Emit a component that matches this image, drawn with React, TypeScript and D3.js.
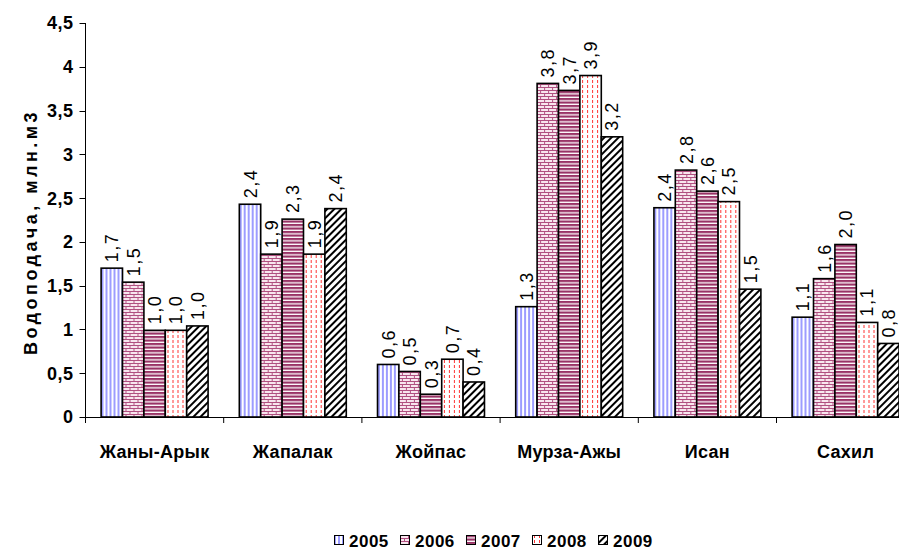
import * as d3 from "d3";
import { useEffect, useRef } from "react";

const categories = ["Жаны-Арык", "Жапалак", "Жойпас", "Мурза-Ажы", "Исан", "Сахил"];
const years = ["2005", "2006", "2007", "2008", "2009"];
const values2005 = [1.7, 2.43, 0.6, 1.26, 2.39, 1.14];
const values2006 = [1.54, 1.86, 0.52, 3.81, 2.82, 1.58];
const values2007 = [0.99, 2.26, 0.26, 3.73, 2.58, 1.97];
const values2008 = [0.99, 1.86, 0.66, 3.9, 2.46, 1.08];
const values2009 = [1.04, 2.38, 0.4, 3.2, 1.46, 0.84];
const yTicks = [0, 0.5, 1, 1.5, 2, 2.5, 3, 3.5, 4, 4.5];
const yTitle = "Водоподача, млн.м3";

const series = [values2005, values2006, values2007, values2008, values2009];

const fmt = (v: number) => d3.format(".1f")(v).replace(".", ",");
const fmtTick = (v: number) => String(v).replace(".", ",");

const App = () => {
  const chartRef = useRef<HTMLDivElement>(null);

  useEffect(() => {
    const width = 899;
    const height = 552;
    const left = 85.5;
    const catWidth = 138.2;
    const top = 23;
    const bottom = 417;

    d3.select(chartRef.current).select("svg").remove();

    const svg = d3
      .select(chartRef.current)
      .append("svg")
      .attr("width", width)
      .attr("height", height)
      .style("display", "block")
      .style("font-family", "'Liberation Sans', Arial, sans-serif");

    svg.append("rect").attr("width", width).attr("height", height).attr("fill", "white");

    // fill patterns, one per year
    const defs = svg.append("defs");

    const p0 = defs.append("pattern").attr("id", "p2005").attr("patternUnits", "userSpaceOnUse").attr("width", 4).attr("height", 4);
    p0.append("rect").attr("width", 4).attr("height", 4).attr("fill", "white");
    p0.append("rect").attr("width", 2).attr("height", 4).attr("fill", "#9c9cff");

    const p1 = defs.append("pattern").attr("id", "p2006").attr("patternUnits", "userSpaceOnUse").attr("width", 8).attr("height", 6);
    p1.append("rect").attr("width", 8).attr("height", 6).attr("fill", "#f8e6ee");
    p1.append("rect").attr("y", 0).attr("width", 8).attr("height", 1).attr("fill", "#b04f80");
    p1.append("rect").attr("y", 3).attr("width", 8).attr("height", 1).attr("fill", "#b04f80");
    p1.append("rect").attr("x", 0).attr("y", 0).attr("width", 1).attr("height", 3).attr("fill", "#b04f80");
    p1.append("rect").attr("x", 4).attr("y", 3).attr("width", 1).attr("height", 3).attr("fill", "#b04f80");

    const p2 = defs.append("pattern").attr("id", "p2007").attr("patternUnits", "userSpaceOnUse").attr("width", 4).attr("height", 3.5);
    p2.append("rect").attr("width", 4).attr("height", 3.5).attr("fill", "white");
    p2.append("rect").attr("width", 4).attr("height", 2.2).attr("fill", "#993366");

    const p3 = defs.append("pattern").attr("id", "p2008").attr("patternUnits", "userSpaceOnUse").attr("width", 5).attr("height", 10);
    p3.append("rect").attr("width", 5).attr("height", 10).attr("fill", "white");
    p3.append("rect").attr("x", 2).attr("y", 0).attr("width", 1).attr("height", 3).attr("fill", "#ff3333");
    p3.append("rect").attr("x", 2).attr("y", 5).attr("width", 1).attr("height", 3).attr("fill", "#ff3333");

    const p4 = defs.append("pattern").attr("id", "p2009").attr("patternUnits", "userSpaceOnUse").attr("width", 5).attr("height", 5).attr("patternTransform", "rotate(45)");
    p4.append("rect").attr("width", 5).attr("height", 5).attr("fill", "white");
    p4.append("rect").attr("width", 2).attr("height", 5).attr("fill", "black");

    const x = d3
      .scaleBand()
      .domain(categories)
      .range([left, left + catWidth * categories.length])
      .padding(0);

    const xInner = d3
      .scaleBand()
      .domain(years)
      .range([0, x.bandwidth()])
      .paddingInner(0)
      .paddingOuter(0.73);

    const y = d3.scaleLinear().domain([0, 4.5]).range([bottom, top]);

    // bars
    const groups = svg
      .append("g")
      .selectAll("g")
      .data(categories)
      .join("g")
      .attr("transform", (d) => `translate(${x(d)},0)`);

    years.forEach((yr, s) => {
      groups
        .append("rect")
        .attr("x", (d) => xInner(yr)!)
        .attr("y", (d, i) => y(series[s][i]))
        .attr("width", xInner.bandwidth())
        .attr("height", (d, i) => bottom - y(series[s][i]))
        .attr("fill", `url(#p${yr})`)
        .attr("stroke", "black")
        .attr("stroke-width", 1.6);

      groups
        .append("text")
        .attr("transform", (d, i) => {
          const cx = xInner(yr)! + xInner.bandwidth() / 2 + 6.5;
          const cy = y(series[s][i]) - 6;
          return `translate(${cx},${cy}) rotate(-90)`;
        })
        .attr("font-size", 18)
        .attr("letter-spacing", 1.5)
        .attr("fill", "black")
        .text((d, i) => fmt(series[s][i]));
    });

    // y axis
    const yAxis = svg.append("g");
    yAxis.append("line").attr("x1", left).attr("x2", left).attr("y1", top).attr("y2", bottom).attr("stroke", "black");
    yAxis
      .selectAll(".tick")
      .data(yTicks)
      .join("line")
      .attr("x1", left - 6)
      .attr("x2", left)
      .attr("y1", (d) => Math.round(y(d)) + 0.5)
      .attr("y2", (d) => Math.round(y(d)) + 0.5)
      .attr("stroke", "black");
    yAxis
      .selectAll("text")
      .data(yTicks)
      .join("text")
      .attr("x", left - 12)
      .attr("y", (d) => y(d))
      .attr("dy", "0.36em")
      .attr("text-anchor", "end")
      .attr("font-size", 18)
      .attr("font-weight", "bold")
      .attr("letter-spacing", 0.5)
      .text((d) => fmtTick(d));

    svg
      .append("text")
      .attr("transform", `translate(37,232) rotate(-90)`)
      .attr("text-anchor", "middle")
      .attr("font-size", 18)
      .attr("font-weight", "bold")
      .attr("letter-spacing", 3.5)
      .text(yTitle);

    // x axis
    const xAxis = svg.append("g");
    xAxis.append("line").attr("x1", left).attr("x2", width).attr("y1", bottom + 0.5).attr("y2", bottom + 0.5).attr("stroke", "black");
    xAxis
      .selectAll(".tick")
      .data(categories)
      .join("line")
      .attr("x1", (d) => x(d)!)
      .attr("x2", (d) => x(d)!)
      .attr("y1", bottom)
      .attr("y2", bottom + 6)
      .attr("stroke", "black");
    xAxis
      .selectAll("text")
      .data(categories)
      .join("text")
      .attr("x", (d) => x(d)! + x.bandwidth() / 2)
      .attr("y", 458)
      .attr("text-anchor", "middle")
      .attr("font-size", 18)
      .attr("font-weight", "bold")
      .attr("letter-spacing", 0.3)
      .text((d) => d);

    // legend
    const legend = svg
      .append("g")
      .selectAll("g")
      .data(years)
      .join("g")
      .attr("transform", (d, i) => `translate(${334 + i * 66},535)`);
    legend
      .append("rect")
      .attr("x", 0.5)
      .attr("y", 0.5)
      .attr("width", 9)
      .attr("height", 9)
      .attr("fill", (d) => `url(#p${d})`)
      .attr("stroke", "black");
    legend
      .append("text")
      .attr("x", 15)
      .attr("y", 12)
      .attr("font-size", 17)
      .attr("font-weight", "bold")
      .attr("letter-spacing", 0.5)
      .text((d) => d);
  }, []);

  return <div ref={chartRef} style={{ position: "absolute", left: 0, top: 0 }}></div>;
};

export default App;
